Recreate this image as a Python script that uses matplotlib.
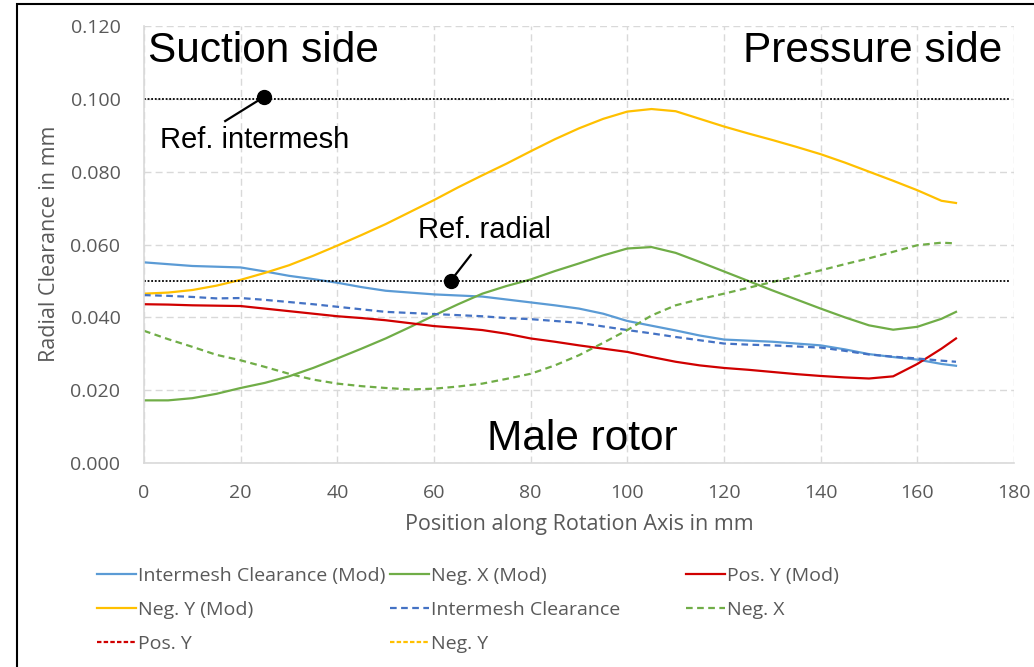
import matplotlib
matplotlib.use("Agg")
import matplotlib.pyplot as plt
from matplotlib.lines import Line2D
from matplotlib.patches import Rectangle
from matplotlib.ticker import FormatStrFormatter, MultipleLocator

# ---------------- data ----------------
position = [0, 5, 10, 15, 20, 25, 30, 35, 40, 45, 50, 55, 60, 65, 70, 75, 80, 85,
            90, 95, 100, 105, 110, 115, 120, 125, 130, 135, 140, 145, 150, 155,
            160, 165, 168]

intermesh_mod = [.0551, .0546, .0541, .0539, .0537, .0526, .0514, .0505, .0495, .0483,
                 .0473, .0468, .0463, .0460, .0457, .0449, .0441, .0433, .0424, .0410,
                 .0390, .0377, .0364, .0350, .0339, .0336, .0333, .0328, .0323, .0312,
                 .0299, .0291, .0284, .0272, .0267]
neg_x_mod = [.0172, .0172, .0178, .0190, .0206, .0220, .0238, .0261, .0287, .0314,
             .0342, .0373, .0405, .0436, .0465, .0486, .0504, .0527, .0548, .0570,
             .0589, .0593, .0577, .0552, .0526, .0500, .0474, .0449, .0424, .0400,
             .0378, .0366, .0374, .0396, .0415]
pos_y_mod = [.0436, .0435, .0433, .0432, .0431, .0424, .0417, .0410, .0403, .0398,
             .0392, .0384, .0376, .0371, .0365, .0355, .0342, .0333, .0323, .0314,
             .0305, .0291, .0278, .0268, .0261, .0256, .0250, .0244, .0239, .0235,
             .0232, .0238, .0272, .0314, .0342]
neg_y_mod = [.0465, .0468, .0475, .0487, .0503, .0522, .0543, .0569, .0597, .0626,
             .0656, .0689, .0722, .0757, .0790, .0822, .0856, .0889, .0919, .0945,
             .0965, .0972, .0966, .0945, .0924, .0905, .0887, .0868, .0848, .0825,
             .0800, .0775, .0749, .0720, .0714]
intermesh = [.0461, .0459, .0456, .0452, .0453, .0448, .0442, .0436, .0429, .0422,
             .0415, .0412, .0409, .0406, .0403, .0398, .0395, .0390, .0385, .0375,
             .0365, .0356, .0346, .0337, .0328, .0325, .0323, .0320, .0317, .0308,
             .0298, .0292, .0287, .0281, .0278]
neg_x = [.0363, .0340, .0319, .0297, .0282, .0264, .0245, .0229, .0218, .0211,
         .0206, .0202, .0204, .0210, .0218, .0231, .0245, .0268, .0296, .0330,
         .0365, .0405, .0433, .0450, .0465, .0481, .0497, .0513, .0529, .0546,
         .0562, .0580, .0598, .0605, .0603]

ref_intermesh = 0.100
ref_radial = 0.050

x_ticks = [0, 20, 40, 60, 80, 100, 120, 140, 160, 180]

legend_rows = [
    ["Intermesh Clearance (Mod)", "Neg. X (Mod)", "Pos. Y (Mod)"],
    ["Neg. Y (Mod)", "Intermesh Clearance", "Neg. X"],
    ["Pos. Y", "Neg. Y"],
]

# ---------------- styling ----------------
BLUE = "#5B9BD5"
BLUE_D = "#4472C4"
GREEN = "#70AD47"
RED = "#D00000"
YELLOW = "#FFC000"
GREY_TXT = "#595959"
GRID = "#D9D9D9"
FONT = ["Open Sans", "DejaVu Sans"]
ARIAL = ["Liberation Sans", "DejaVu Sans"]

fig = plt.figure(figsize=(10.34, 6.67), dpi=100)
ax = fig.add_axes([144 / 1034, 1 - 463 / 667, (1014 - 144) / 1034, (463 - 26) / 667])

lw = 1.6
h = {}
h["Intermesh Clearance (Mod)"] = ax.plot(position, intermesh_mod, color=BLUE, lw=lw)[0]
h["Neg. X (Mod)"] = ax.plot(position, neg_x_mod, color=GREEN, lw=lw)[0]
h["Pos. Y (Mod)"] = ax.plot(position, pos_y_mod, color=RED, lw=lw)[0]
h["Neg. Y (Mod)"] = ax.plot(position, neg_y_mod, color=YELLOW, lw=lw)[0]
h["Intermesh Clearance"] = ax.plot(position, intermesh, color=BLUE_D, lw=lw, ls=(0, (3, 2)))[0]
h["Neg. X"] = ax.plot(position, neg_x, color=GREEN, lw=lw, ls=(0, (3, 2)))[0]
h["Pos. Y"] = Line2D([], [], color=RED, lw=lw, ls=(0, (2, 1)))
h["Neg. Y"] = Line2D([], [], color=YELLOW, lw=lw, ls=(0, (2, 1)))

# reference lines
ax.plot([0, 179], [ref_intermesh, ref_intermesh], color="black", lw=1.3, ls=(0, (1, 1)))
ax.plot([0, 179], [ref_radial, ref_radial], color="black", lw=1.3, ls=(0, (1, 1)))

# annotation pointers
ax.plot([16.8, 24.8], [0.0939, 0.1005], color="black", lw=1.6)
ax.plot([24.8], [0.1005], "o", color="black", ms=10)
ax.plot([67.6, 63.5], [0.0571, 0.0501], color="black", lw=1.6)
ax.plot([63.5], [0.0501], "o", color="black", ms=10)

ax.text(3.3, 0.0887, "Ref. intermesh", fontsize=21, family=ARIAL, ha="left", va="center")
ax.text(56.7, 0.0639, "Ref. radial", fontsize=21, family=ARIAL, ha="left", va="center")
ax.text(0.8, 0.1132, "Suction side", fontsize=30.5, family=ARIAL, ha="left", va="center")
ax.text(177.5, 0.1132, "Pressure side", fontsize=30.5, family=ARIAL, ha="right", va="center")
ax.text(70.9, 0.0065, "Male rotor", fontsize=30.5, family=ARIAL, ha="left", va="center")

# axes
ax.set_xlim(0, 180)
ax.set_ylim(0, 0.120)
ax.set_xticks(x_ticks)
ax.yaxis.set_major_locator(MultipleLocator(0.02))
ax.yaxis.set_major_formatter(FormatStrFormatter("%.3f"))
ax.grid(True, color=GRID, ls=(0, (5, 3)), lw=1)
ax.set_axisbelow(True)
for s in ["top", "right"]:
    ax.spines[s].set_visible(False)
for s in ["left", "bottom"]:
    ax.spines[s].set_color(GRID)
    ax.spines[s].set_linewidth(1.2)
ax.tick_params(length=0, colors=GREY_TXT, labelsize=14)
ax.tick_params(axis="x", pad=15)
ax.tick_params(axis="y", pad=17)
for lab in ax.get_xticklabels() + ax.get_yticklabels():
    lab.set_family(FONT)

ax.set_xlabel("Position along Rotation Axis in mm", fontsize=15.5, color=GREY_TXT, family=FONT)
ax.set_ylabel("Radial Clearance in mm", fontsize=15.5, color=GREY_TXT, family=FONT)
ax.xaxis.set_label_coords(0.5, -(514 - 463) / 437)
ax.yaxis.set_label_coords(-(144 - 60) / 870, (463 - 244) / 437)

# legend: three columns placed at fixed x positions like Excel
col_x = [97, 390, 686]
for c in range(3):
    labels = [row[c] for row in legend_rows if c < len(row)]
    leg = fig.legend([h[l] for l in labels], labels,
                     loc="upper left", bbox_to_anchor=(col_x[c] / 1034, 1 - 567 / 667),
                     frameon=False, borderpad=0, borderaxespad=0,
                     handlelength=2.0, handletextpad=0.1, labelspacing=0.83,
                     prop={"family": FONT, "size": 14})
    for t in leg.get_texts():
        t.set_color(GREY_TXT)

# figure border (left + top visible)
fig.patches.append(Rectangle((17 / 1034, -0.5), 2.0, 0.5 + 1 - 4 / 667,
                             transform=fig.transFigure, fill=False,
                             edgecolor="black", lw=1.5, zorder=0))

fig.savefig("out.png", dpi=100)
